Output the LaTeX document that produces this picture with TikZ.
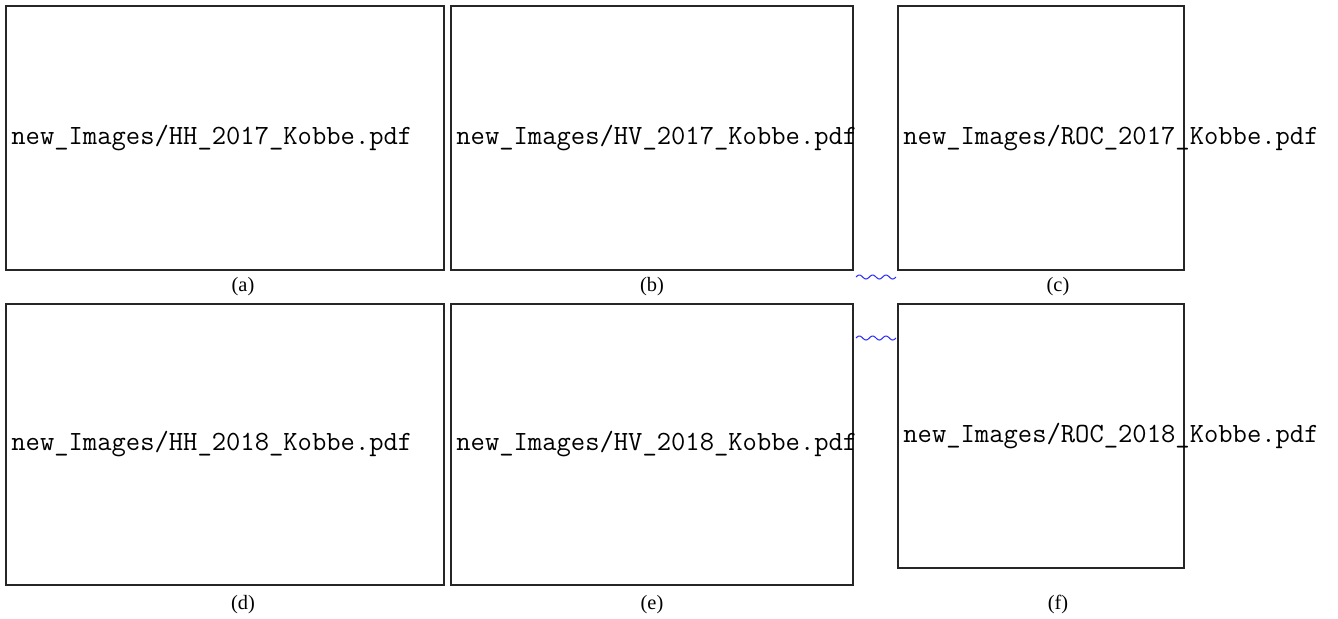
\documentclass[tikz,border=0pt]{standalone}
\usepackage{fontspec}
\setmainfont{Liberation Serif}
\begin{document}
\begin{tikzpicture}[x=0.5pt,y=-0.5pt,
  frame/.style={draw=black!85,line width=0.52pt},
  fname/.style={anchor=west,inner sep=0pt,font=\fontsize{13.9}{16}\selectfont\ttfamily},
  sublabel/.style={inner sep=0pt,font=\fontsize{10.2}{12}\selectfont},
  wave/.style={draw=blue!85!white,line width=0.5pt}]
\useasboundingbox (0,0) rectangle (1338,618);
\fill[white] (0,0) rectangle (1338,618);
% row 1
\draw[frame] (6,6) rectangle (444,270);
\draw[frame] (451,6) rectangle (853,270);
\draw[frame] (898,6) rectangle (1184,270);
\node[fname] (ta) at (11,138) {new\_Images/HH\_2017\_Kobbe.pdf};
\node[fname] (tb) at (456,138) {new\_Images/HV\_2017\_Kobbe.pdf};
\node[fname] (tc) at (903,138) {new\_Images/ROC\_2017\_Kobbe.pdf};
\node[sublabel] (la) at (243,287) {(a)};
\node[sublabel] (lb) at (652,287) {(b)};
\node[sublabel] (lc) at (1058,287) {(c)};
% row 2
\draw[frame] (6,304) rectangle (444,585);
\draw[frame] (451,304) rectangle (853,585);
\draw[frame] (898,304) rectangle (1184,568);
\node[fname] (td) at (11,444) {new\_Images/HH\_2018\_Kobbe.pdf};
\node[fname] (te) at (456,444) {new\_Images/HV\_2018\_Kobbe.pdf};
\node[fname] (tf) at (903,436) {new\_Images/ROC\_2018\_Kobbe.pdf};
\node[sublabel] (ld) at (243,605) {(d)};
\node[sublabel] (le) at (652,605) {(e)};
\node[sublabel] (lf) at (1058,604) {(f)};
% wavy marks
\draw[wave] plot[domain=0:40,samples=80,smooth] ({856+\x},{277-2*sin(\x*360/13.33)});
\draw[wave] plot[domain=0:40,samples=80,smooth] ({856+\x},{338-2*sin(\x*360/13.33)});
\end{tikzpicture}
\end{document}
